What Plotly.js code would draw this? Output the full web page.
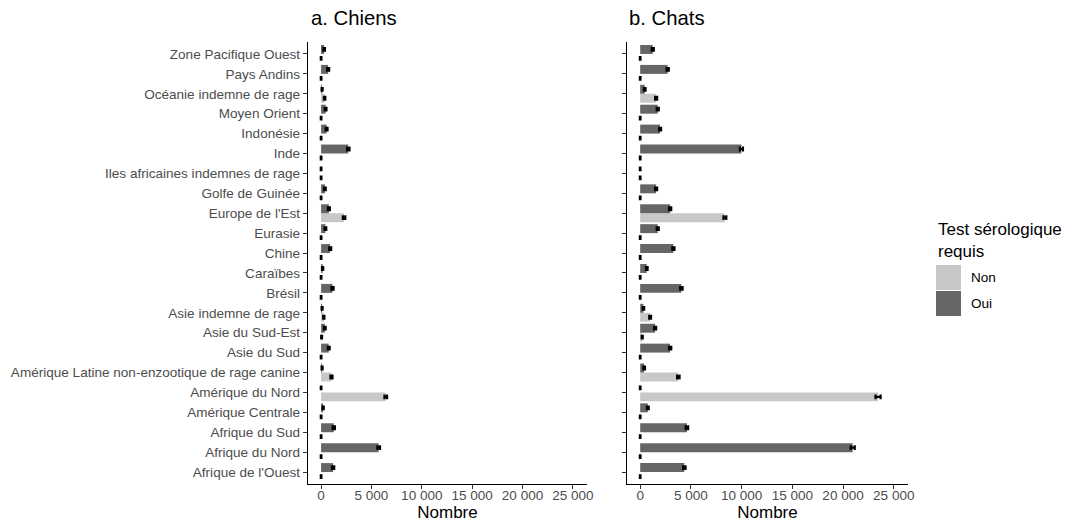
<!DOCTYPE html>
<html>
<head>
<meta charset="utf-8">
<script src="https://cdn.plot.ly/plotly-3.0.1.min.js"></script>
<style>html,body{margin:0;padding:0;background:#fff;}#chart{width:1069px;height:522px;}</style>
</head>
<body>
<div id="chart"></div>
<script>
// Categories, bottom to top
const categories = [
  "Afrique de l'Ouest", "Afrique du Nord", "Afrique du Sud", "Amérique Centrale",
  "Amérique du Nord", "Amérique Latine non-enzootique de rage canine", "Asie du Sud",
  "Asie du Sud-Est", "Asie indemne de rage", "Brésil", "Caraïbes", "Chine", "Eurasie",
  "Europe de l'Est", "Golfe de Guinée", "Iles africaines indemnes de rage", "Inde",
  "Indonésie", "Moyen Orient", "Océanie indemne de rage", "Pays Andins", "Zone Pacifique Ouest"
];
const seriesNames = ["Non", "Oui"];

const dogsOui = [1190, 5720, 1260, 200, 0, 100, 760, 370, 100, 1130, 150, 900, 430, 770, 380, 0, 2700, 550, 450, 100, 700, 300];
const dogsNon = [0, 0, 0, 0, 6420, 1030, 0, 50, 270, 0, 0, 0, 0, 2280, 0, 0, 0, 0, 0, 350, 0, 0];
const catsOui = [4350, 20950, 4610, 750, 0, 390, 2950, 1470, 320, 4060, 650, 3270, 1730, 2950, 1570, 0, 9980, 1960, 1730, 450, 2710, 1240];
const catsNon = [0, 0, 0, 0, 23450, 3760, 0, 200, 980, 0, 0, 0, 0, 8350, 0, 0, 0, 0, 0, 1570, 0, 0];

const dogsOuiErr = [110, 130, 110, 60, 30, 50, 90, 80, 50, 110, 60, 100, 80, 100, 80, 30, 120, 90, 80, 50, 100, 80];
const dogsNonErr = [30, 30, 30, 30, 130, 100, 30, 40, 60, 30, 30, 30, 30, 120, 30, 30, 30, 30, 30, 70, 30, 30];
const catsOuiErr = [120, 200, 120, 90, 30, 80, 110, 100, 70, 120, 80, 110, 100, 110, 100, 30, 150, 100, 100, 80, 110, 100];
const catsNonErr = [30, 30, 30, 30, 250, 120, 30, 50, 90, 30, 30, 30, 30, 140, 30, 30, 30, 30, 30, 100, 30, 30];

const xTicks = [0, 5000, 10000, 15000, 20000, 25000];

const colNon = "#C8C8C8";
const colOui = "#666666";
const FONT = "Liberation Sans, Arial, Helvetica, sans-serif";
const SMALL = 13.55;

function barTrace(vals, errs, name, color, xa, ya) {
  return {
    type: "bar", orientation: "h", name: name,
    y: categories, x: vals,
    xaxis: xa, yaxis: ya,
    marker: {color: color, line: {width: 0}},
    error_x: {type: "data", array: errs, visible: true, color: "#000000", thickness: 2.2, width: 2.4},
    showlegend: false, hoverinfo: "x+y+name"
  };
}

const data = [
  barTrace(dogsNon, dogsNonErr, seriesNames[0], colNon, "x", "y"),
  barTrace(dogsOui, dogsOuiErr, seriesNames[1], colOui, "x", "y"),
  barTrace(catsNon, catsNonErr, seriesNames[0], colNon, "x2", "y2"),
  barTrace(catsOui, catsOuiErr, seriesNames[1], colOui, "x2", "y2")
];

const W = 1069;
const xAxisCommon = {
  range: [-1300, 26400], tickvals: xTicks, tickformat: ",d",
  showgrid: false, zeroline: false, showline: true, linecolor: "#000000", linewidth: 1.2,
  ticks: "outside", ticklen: 4, tickcolor: "#333333", tickwidth: 1,
  ticklabelstandoff: -5,
  tickfont: {family: FONT, size: SMALL, color: "#4D4D4D"},
  title: {text: "Nombre", font: {family: FONT, size: 17, color: "#000000"}, standoff: 7},
  fixedrange: true
};
const yAxisCommon = {
  type: "category", categoryorder: "array", categoryarray: categories,
  range: [-0.6, categories.length - 0.4],
  showgrid: false, zeroline: false, showline: true, linecolor: "#000000", linewidth: 1.2,
  ticks: "outside", ticklen: 4, tickcolor: "#333333", tickwidth: 1,
  tickfont: {family: FONT, size: SMALL, color: "#4D4D4D"},
  fixedrange: true
};

const legX = 936, legNonTop = 265, legSize = 25;
const plotTop = 42, plotBot = 484;
function py(px) { return (plotBot - px) / (plotBot - plotTop); }
function pxX(px) { return px / W; }

const layout = {
  width: 1069, height: 522,
  margin: {l: 0, r: 0, t: plotTop, b: 522 - plotBot, pad: 0},
  paper_bgcolor: "#FFFFFF", plot_bgcolor: "#FFFFFF",
  separators: ", ",
  barmode: "group", bargap: 0.1, bargroupgap: 0,
  showlegend: false,
  font: {family: FONT},
  xaxis: Object.assign({}, xAxisCommon, {domain: [308 / W, 587 / W], anchor: "y"}),
  xaxis2: Object.assign({}, xAxisCommon, {domain: [627 / W, 908 / W], anchor: "y2"}),
  yaxis: Object.assign({}, yAxisCommon, {anchor: "x", domain: [0, 1]}),
  yaxis2: Object.assign({}, yAxisCommon, {anchor: "x2", domain: [0, 1], showticklabels: false}),
  shapes: [
    {type: "rect", xref: "paper", yref: "paper", x0: pxX(legX), x1: pxX(legX + legSize),
     y0: py(legNonTop + legSize), y1: py(legNonTop), fillcolor: colNon, line: {width: 0}},
    {type: "rect", xref: "paper", yref: "paper", x0: pxX(legX), x1: pxX(legX + legSize),
     y0: py(legNonTop + 2 * legSize + 1), y1: py(legNonTop + legSize + 1), fillcolor: colOui, line: {width: 0}}
  ],
  annotations: [
    {text: "a. Chiens", xref: "paper", yref: "paper", x: 309 / W, y: py(18), xanchor: "left", yanchor: "middle",
     showarrow: false, font: {family: FONT, size: 20.3, color: "#000000"}},
    {text: "b. Chats", xref: "paper", yref: "paper", x: 627 / W, y: py(18), xanchor: "left", yanchor: "middle",
     showarrow: false, font: {family: FONT, size: 20.3, color: "#000000"}},
    {text: "Test sérologique<br>requis", xref: "paper", yref: "paper", x: pxX(legX), y: py(218), xanchor: "left", yanchor: "top",
     align: "left", showarrow: false, font: {family: FONT, size: 17, color: "#000000"}},
    {text: seriesNames[0], xref: "paper", yref: "paper", x: pxX(legX + legSize + 8), y: py(legNonTop + legSize / 2), xanchor: "left", yanchor: "middle",
     showarrow: false, font: {family: FONT, size: SMALL, color: "#000000"}},
    {text: seriesNames[1], xref: "paper", yref: "paper", x: pxX(legX + legSize + 8), y: py(legNonTop + legSize * 1.5 + 1), xanchor: "left", yanchor: "middle",
     showarrow: false, font: {family: FONT, size: SMALL, color: "#000000"}}
  ]
};

Plotly.newPlot("chart", data, layout, {staticPlot: true, displayModeBar: false});
</script>
</body>
</html>
